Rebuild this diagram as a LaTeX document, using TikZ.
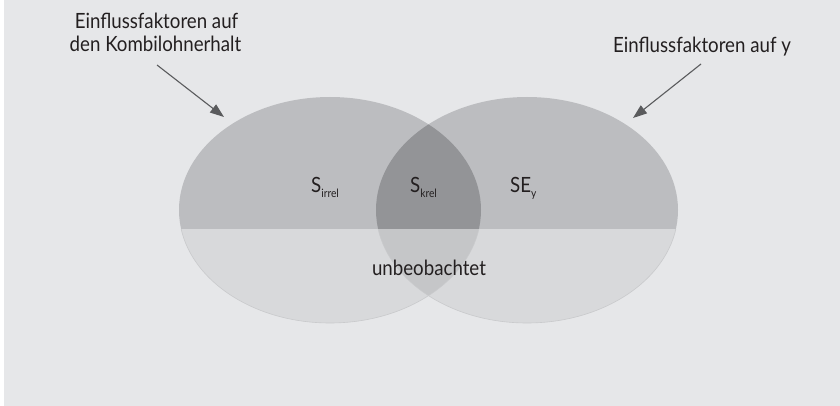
\documentclass[tikz,border=0pt]{standalone}
\usepackage{fontspec}
\setmainfont[FakeStretch=0.89]{Lato}
\usetikzlibrary{arrows.meta}
\definecolor{bg}{HTML}{E6E7E9}
\definecolor{upc}{HTML}{BCBDC0}
\definecolor{loc}{HTML}{D8D9DB}
\definecolor{upx}{HTML}{939497}
\definecolor{lox}{HTML}{C5C6C8}
\definecolor{edgec}{HTML}{C9CACC}
\definecolor{txt}{HTML}{231F20}
\definecolor{arr}{HTML}{5A5B5D}
\tikzset{
  lbl/.style={text=txt, font=\fontsize{21}{24}\selectfont, inner sep=0pt, anchor=base},
  pointer/.style={draw=arr, line width=1.1pt, -{Triangle[length=14pt,width=10pt]}},
}
\newcommand{\subt}[1]{\raisebox{-5pt}{\fontsize{11.5}{12}\selectfont #1}}
\begin{document}
\begin{tikzpicture}[x=1pt,y=-1pt]
\fill[white] (0,0) rectangle (840,406);
\fill[bg] (4,0) rectangle (840,406);
\useasboundingbox (0,0) rectangle (840,406);
% ellipse halves
\begin{scope}
  \clip (0,0) rectangle (840,229);
  \fill[upc] (330,210) ellipse [x radius=151, y radius=113];
  \fill[upc] (527,210) ellipse [x radius=151, y radius=113];
  \begin{scope}
    \clip (330,210) ellipse [x radius=151, y radius=113];
    \fill[upx] (527,210) ellipse [x radius=151, y radius=113];
  \end{scope}
\end{scope}
\begin{scope}
  \clip (0,229) rectangle (840,406);
  \fill[loc] (330,210) ellipse [x radius=151, y radius=113];
  \fill[loc] (527,210) ellipse [x radius=151, y radius=113];
  \begin{scope}
    \clip (330,210) ellipse [x radius=151, y radius=113];
    \fill[lox] (527,210) ellipse [x radius=151, y radius=113];
  \end{scope}
  \draw[edgec, line width=0.6pt] (330,210) ellipse [x radius=151, y radius=113];
  \draw[edgec, line width=0.6pt] (527,210) ellipse [x radius=151, y radius=113];
\end{scope}
% labels
\node[lbl] (l1) at (156.5,29) {Einflussfaktoren auf};
\node[lbl] (l2) at (155.5,52) {den Kombilohnerhalt};
\node[lbl] (r1) at (702,53) {Einflussfaktoren auf y};
\node[lbl, anchor=base west] (si) at (311,193) {S\subt{irrel}};
\node[lbl, anchor=base west] (sk) at (410,193) {S\subt{krel}};
\node[lbl, anchor=base west] (se) at (510,193) {SE\subt{y}};
\node[lbl] (ub) at (429,275) {unbeobachtet};
% arrows
\coordinate (la) at (157,65);
\coordinate (lt) at (224,117);
\coordinate (ra) at (701,64);
\coordinate (rt) at (633,118);
\draw[pointer] (la) -- (lt);
\draw[pointer] (ra) -- (rt);
\end{tikzpicture}
\end{document}
